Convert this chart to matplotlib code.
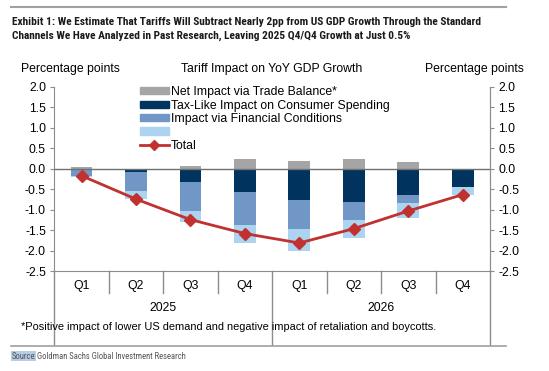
import numpy as np
import matplotlib
matplotlib.use("Agg")
import matplotlib.pyplot as plt
from matplotlib.patches import Patch
from matplotlib.lines import Line2D
import matplotlib.transforms as mtransforms

plt.rcParams['font.family'] = ['Liberation Sans', 'DejaVu Sans']
narrow = ['Roboto Condensed', 'Barlow Semi Condensed', 'DejaVu Sans']

quarters = ["Q1", "Q2", "Q3", "Q4", "Q1", "Q2", "Q3", "Q4"]
years = ["2025", "2026"]
trade = [0.04, 0.0, 0.07, 0.23, 0.19, 0.24, 0.16, 0.0]
tax = [0.0, -0.08, -0.32, -0.57, -0.77, -0.81, -0.64, -0.45]
fin = [-0.18, -0.47, -0.71, -0.81, -0.71, -0.43, -0.19, 0.0]
other = [-0.03, -0.19, -0.28, -0.43, -0.52, -0.46, -0.36, -0.19]
total = [-0.17, -0.74, -1.24, -1.58, -1.81, -1.46, -1.03, -0.63]

c_trade = "#a5a5a5"
c_tax = "#00345f"
c_fin = "#7097c5"
c_other = "#acd4f1"
c_tot = "#c0312f"
c_ax = "#8c8c8c"

fig = plt.figure(figsize=(5.49, 3.71), dpi=100)
ax = fig.add_axes([0.0989, 0.2687, 0.7936, 0.4976])

x = np.arange(len(quarters))
w = 0.4
tax = np.array(tax)
fin = np.array(fin)
other = np.array(other)
ax.bar(x, trade, w, color=c_trade, zorder=2)
ax.bar(x, tax, w, color=c_tax, zorder=2)
ax.bar(x, fin, w, bottom=tax, color=c_fin, zorder=2)
ax.bar(x, other, w, bottom=tax + fin, color=c_other, zorder=2)
ax.axhline(0, color="#707070", lw=1.0, zorder=3)
ax.plot(x, total, color=c_tot, lw=2, marker="D", ms=6, zorder=4)

ax.set_xlim(-0.5, 7.5)
ax.set_ylim(-2.5, 2.0)
ax.set_yticks(np.arange(-2.5, 2.01, 0.5))
ax.set_yticklabels(["%.1f" % v for v in np.arange(-2.5, 2.01, 0.5)])
ax.set_xticks([])
ax.spines["top"].set_visible(False)
for s in ["left", "right", "bottom"]:
    ax.spines[s].set_color(c_ax)
ax.tick_params(axis="y", colors=c_ax, labelcolor="black", labelsize=8.8, length=3, pad=3)

ax2 = ax.twinx()
ax2.set_ylim(-2.5, 2.0)
ax2.set_yticks(np.arange(-2.5, 2.01, 0.5))
ax2.set_yticklabels(["%.1f" % v for v in np.arange(-2.5, 2.01, 0.5)])
for s in ["top", "left", "bottom"]:
    ax2.spines[s].set_visible(False)
ax2.spines["right"].set_color(c_ax)
ax2.tick_params(axis="y", colors=c_ax, labelcolor="black", labelsize=8.8, length=3, pad=3)

# category axis below the plot
trans = mtransforms.blended_transform_factory(ax.transData, ax.transAxes)
for i in range(1, 8):
    if i == 4:
        continue
    ax.plot([i - 0.5, i - 0.5], [0, -0.115], color=c_ax, lw=1, transform=trans, clip_on=False)
for xb in [-0.5, 3.5, 7.5]:
    ax.plot([xb, xb], [0, -0.4], color=c_ax, lw=1, transform=trans, clip_on=False)
for i, q in enumerate(quarters):
    ax.text(i, -0.08, q, transform=trans, ha="center", va="center", fontsize=8.8)
for j, yr in enumerate(years):
    ax.text(1.5 + 4 * j, -0.198, yr, transform=trans, ha="center", va="center", fontsize=8.8)

# headers
fig.text(0.038, 0.814, "Percentage points", fontsize=8.8, va="center")
fig.text(0.33, 0.814, "Tariff Impact on YoY GDP Growth", fontsize=8.8, va="center")
fig.text(0.775, 0.814, "Percentage points", fontsize=8.8, va="center")

handles = [Patch(color=c_trade), Patch(color=c_tax), Patch(color=c_fin), Patch(color=c_other),
           Line2D([], [], color=c_tot, lw=2, marker="D", ms=5)]
labels = ["Net Impact via Trade Balance*", "Tax-Like Impact on Consumer Spending",
          "Impact via Financial Conditions", "", "Total"]
leg = ax.legend(handles, labels, loc="upper left", bbox_to_anchor=(0.185, 1.03), frameon=False,
                fontsize=8.8, handlelength=2.4, handleheight=0.55, labelspacing=0.12,
                handletextpad=0.15, borderaxespad=0)

# title block
fig.add_artist(Line2D([0.0195, 0.922], [0.980, 0.980], color="#a0a0a0", lw=1.5))
fig.text(0.021, 0.940, "Exhibit 1: We Estimate That Tariffs Will Subtract Nearly 2pp from US GDP Growth Through the Standard",
         fontsize=8.2, fontweight="bold", va="center", family=narrow, color="#1a1a1a")
fig.text(0.021, 0.903, "Channels We Have Analyzed in Past Research, Leaving 2025 Q4/Q4 Growth at Just 0.5%",
         fontsize=8.2, fontweight="bold", va="center", family=narrow, color="#1a1a1a")

fig.text(0.038, 0.118, "*Positive impact of lower US demand and negative impact of retaliation and boycotts.",
         fontsize=7.9, va="center")
fig.add_artist(Line2D([0.0195, 0.922], [0.067, 0.067], color="#a0a0a0", lw=1.2))
fig.text(0.021, 0.040, "Source", fontsize=6.2, va="center", color="#555555", family=narrow,
         bbox=dict(facecolor="#b5cde6", edgecolor="none", pad=0.5))
fig.text(0.060, 0.040, ": Goldman Sachs Global Investment Research", fontsize=6.2, va="center",
         color="#555555", family=narrow)

fig.savefig("out.png", dpi=100)
